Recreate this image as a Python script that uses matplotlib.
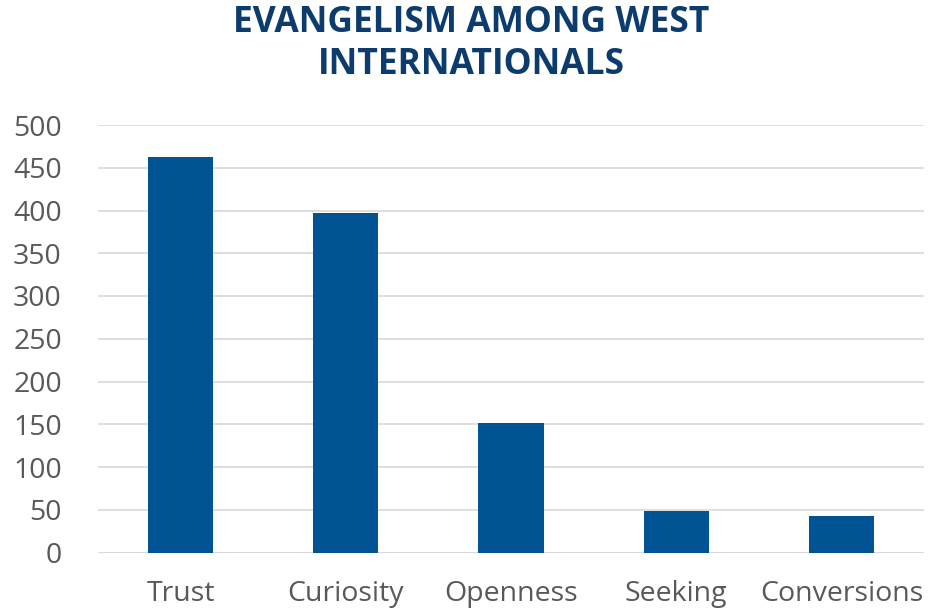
import matplotlib.pyplot as plt

categories = ["Trust", "Curiosity", "Openness", "Seeking", "Conversions"]
values = [462, 397, 152, 48, 43]
yticks = [0, 50, 100, 150, 200, 250, 300, 350, 400, 450, 500]

plt.rcParams['font.family'] = ['Open Sans', 'DejaVu Sans']

fig = plt.figure(figsize=(9.42, 6.1), dpi=100)
ax = fig.add_axes([98 / 942, 1 - 552.5 / 610, 826 / 942, (552.5 - 125) / 610])

ax.bar(range(len(categories)), values, width=0.395, color="#005494", zorder=3)

ax.set_xlim(-0.5, len(categories) - 0.5)
ax.set_ylim(0, 500)
ax.set_yticks(yticks)
ax.set_xticks(range(len(categories)))
ax.set_xticklabels(categories)

ax.grid(axis="y", color="#d9d9d9", linewidth=1.2, zorder=0)
ax.set_axisbelow(True)
for s in ax.spines.values():
    s.set_visible(False)
ax.axhline(0, color="#d9d9d9", linewidth=1.5, zorder=2)

ax.tick_params(axis="both", length=0, labelsize=20.5, labelcolor="#595959")
ax.tick_params(axis="y", pad=26)
ax.tick_params(axis="x", pad=20)

fig.text(0.5, 1 - 44 / 610, "EVANGELISM AMONG WEST\nINTERNATIONALS", ha="center", va="center",
         fontsize=25.5, fontweight="bold", color="#0C3C6E", linespacing=1.25)

fig.savefig("out.png", dpi=100)
